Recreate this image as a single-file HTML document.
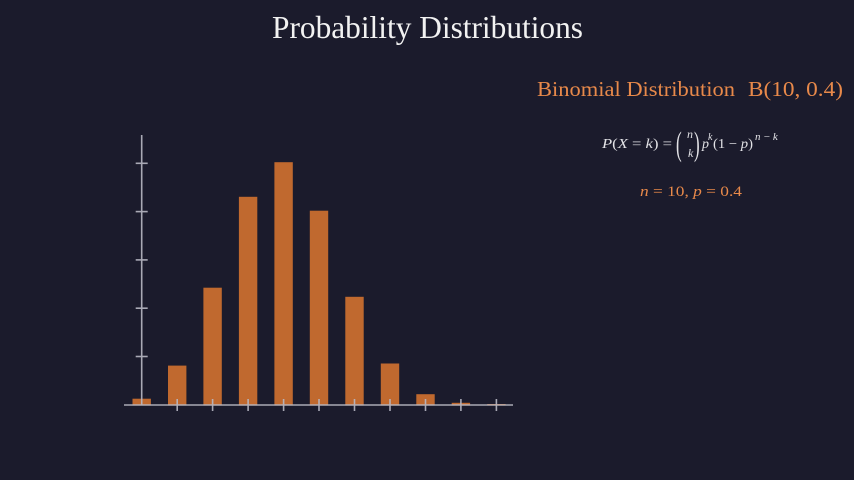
<!DOCTYPE html>
<html>
<head>
<meta charset="utf-8">
<style>
html,body{margin:0;padding:0;background:#1b1b2c;}
svg{display:block;}
text{font-family:"Liberation Serif",serif;}
</style>
</head>
<body>
<svg width="854" height="480" viewBox="0 0 854 480" xmlns="http://www.w3.org/2000/svg">
<rect width="854" height="480" fill="#1b1b2c"/>
<!-- Title -->
<text x="272" y="38" font-size="32" fill="#f2f2f2" textLength="311" lengthAdjust="spacingAndGlyphs">Probability Distributions</text>

<!-- Bars -->
<g fill="#c0692f" stroke="#c0692f" stroke-width="1">
<rect x="133.0" y="399.2" width="17.4" height="5.8"/>
<rect x="168.5" y="366.1" width="17.4" height="38.9"/>
<rect x="203.9" y="288.2" width="17.4" height="116.8"/>
<rect x="239.4" y="197.3" width="17.4" height="207.7"/>
<rect x="274.9" y="162.7" width="17.4" height="242.3"/>
<rect x="310.3" y="211.2" width="17.4" height="193.8"/>
<rect x="345.8" y="297.3" width="17.4" height="107.7"/>
<rect x="381.3" y="364.0" width="17.4" height="41.0"/>
<rect x="416.8" y="394.7" width="17.4" height="10.3"/>
<rect x="452.2" y="403.3" width="17.4" height="1.7"/>
<rect x="487.7" y="404.5" width="17.4" height="0.5"/>
</g>

<!-- Axes -->
<g stroke="#b9b9c4" stroke-width="1.6" opacity="0.9">
<line x1="141.7" y1="135" x2="141.7" y2="405"/>
<line x1="124" y1="405" x2="513" y2="405"/>
<line x1="135.7" y1="163.3" x2="147.7" y2="163.3"/>
<line x1="135.7" y1="211.6" x2="147.7" y2="211.6"/>
<line x1="135.7" y1="259.9" x2="147.7" y2="259.9"/>
<line x1="135.7" y1="308.2" x2="147.7" y2="308.2"/>
<line x1="135.7" y1="356.5" x2="147.7" y2="356.5"/>
<line x1="177.2" y1="399" x2="177.2" y2="411"/>
<line x1="212.6" y1="399" x2="212.6" y2="411"/>
<line x1="248.1" y1="399" x2="248.1" y2="411"/>
<line x1="283.6" y1="399" x2="283.6" y2="411"/>
<line x1="319.0" y1="399" x2="319.0" y2="411"/>
<line x1="354.5" y1="399" x2="354.5" y2="411"/>
<line x1="390.0" y1="399" x2="390.0" y2="411"/>
<line x1="425.5" y1="399" x2="425.5" y2="411"/>
<line x1="460.9" y1="399" x2="460.9" y2="411"/>
<line x1="496.4" y1="399" x2="496.4" y2="411"/>
</g>

<!-- Right side text -->
<text x="537" y="96" font-size="21" fill="#e8894a" textLength="198" lengthAdjust="spacingAndGlyphs">Binomial Distribution</text>
<text x="748" y="96" font-size="21" fill="#e8894a" textLength="95" lengthAdjust="spacingAndGlyphs">B(10, 0.4)</text>

<!-- Formula -->
<g fill="#e2e2e6" font-size="14">
<text x="602" y="148" textLength="70" lengthAdjust="spacingAndGlyphs"><tspan font-style="italic">P</tspan>(<tspan font-style="italic">X</tspan> = <tspan font-style="italic">k</tspan>) =</text>
<text x="676" y="155" font-size="34" transform="translate(676,155) scale(0.5,1) translate(-676,-155)">(</text>
<text x="687" y="138" font-size="12" font-style="italic">n</text>
<text x="688" y="157" font-size="12" font-style="italic">k</text>
<text x="694" y="155" font-size="34" transform="translate(694,155) scale(0.5,1) translate(-694,-155)">)</text>
<text x="702" y="148" font-style="italic">p</text>
<text x="708" y="140" font-size="10" font-style="italic">k</text>
<text x="713" y="148" textLength="40" lengthAdjust="spacingAndGlyphs">(1 − <tspan font-style="italic">p</tspan>)</text>
<text x="755" y="140" font-size="11" font-style="italic" letter-spacing="2.5">n−k</text>
</g>

<text x="640" y="196" font-size="15" fill="#e8894a" textLength="102" lengthAdjust="spacingAndGlyphs"><tspan font-style="italic">n</tspan> = 10, <tspan font-style="italic">p</tspan> = 0.4</text>
</svg>
</body>
</html>
